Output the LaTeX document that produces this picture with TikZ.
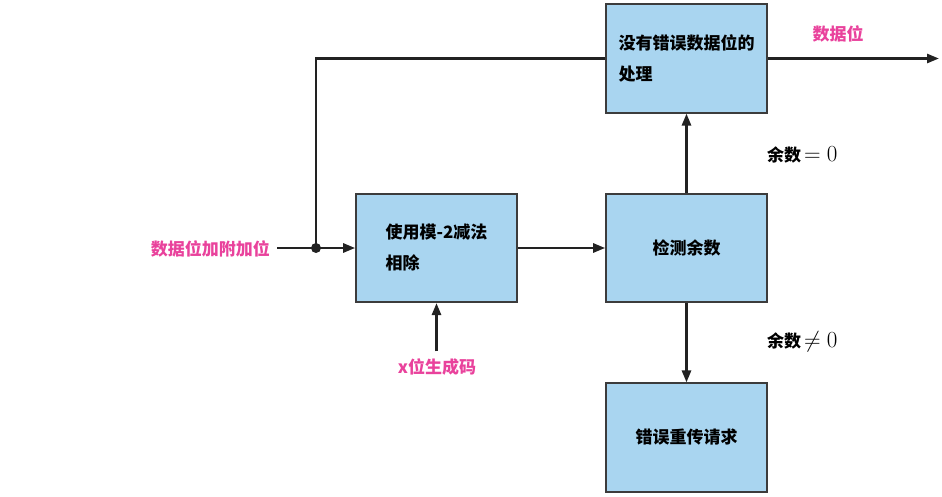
\RequirePackage{fix-cm}
\documentclass[tikz,border=0pt]{standalone}
\usepackage{fontspec}
\newfontfamily\cjk{Noto Sans CJK SC}
\usetikzlibrary{arrows.meta}
\definecolor{boxblue}{HTML}{A9D5F0}
\definecolor{pinklab}{HTML}{E9429C}
\definecolor{edgegray}{HTML}{3C3C3C}
\definecolor{wiregray}{HTML}{222222}
\newcommand{\bigmath}[1]{{\fontsize{23}{24}\selectfont$#1$}}
\tikzset{
  blk/.style={draw=edgegray, line width=1.6pt, fill=boxblue, minimum width=161pt,
    minimum height=108.5pt, inner sep=0pt, align=left,
    font=\cjk\bfseries\fontsize{17}{31}\selectfont},
  lab/.style={text=pinklab, font=\cjk\bfseries\fontsize{17}{20}\selectfont, inner sep=0pt},
  blab/.style={text=black, font=\cjk\bfseries\fontsize{17}{20}\selectfont, inner sep=0pt},
  wire/.style={line width=2.6pt, draw=wiregray},
  arr/.style={wire, -{Triangle[length=12pt,width=9pt]}},
}
\begin{document}
\begin{tikzpicture}[x=1pt,y=-1pt]
\useasboundingbox (0,0) rectangle (942,497);
\node[blk] (ok)  at (686.5,58.5) {没有错误数据位的\\处理};
\node[blk] (mod) at (436.5,248)  {使用模-2减法\\相除};
\node[blk] (chk) at (686.5,248)  {检测余数};
\node[blk] (err) at (686.5,437.5) {错误重传请求};
\node[lab, anchor=east] (in) at (270,249) {数据位加附加位};
\node[lab] (gen) at (437,367) {x位生成码};
\node[lab] (outlab) at (838,34) {数据位};
\node[blab, anchor=west] (eq) at (767,155) {余数\,\bigmath{=0}};
\node[blab, anchor=west] (ne) at (767,342) {余数\,\bigmath{\neq0}};
\coordinate (split) at (316,248);
\coordinate (corner) at (316,58.5);
\coordinate (out) at (939,58.5);
\draw[wire, shorten <=7pt] (in.east |- split) -- (split);
\draw[arr] (split) -- (mod.west);
\draw[wire] (split) -- (corner) -- (ok.west);
\fill[wiregray] (split) circle (5pt);
\draw[arr] (ok.east) -- (out);
\draw[arr] (mod.east) -- (chk.west);
\draw[arr] (chk.north) -- (ok.south);
\draw[arr] (chk.south) -- (err.north);
\draw[arr, shorten <=7pt] (gen.north -| mod.south) -- (mod.south);
\end{tikzpicture}
\end{document}
